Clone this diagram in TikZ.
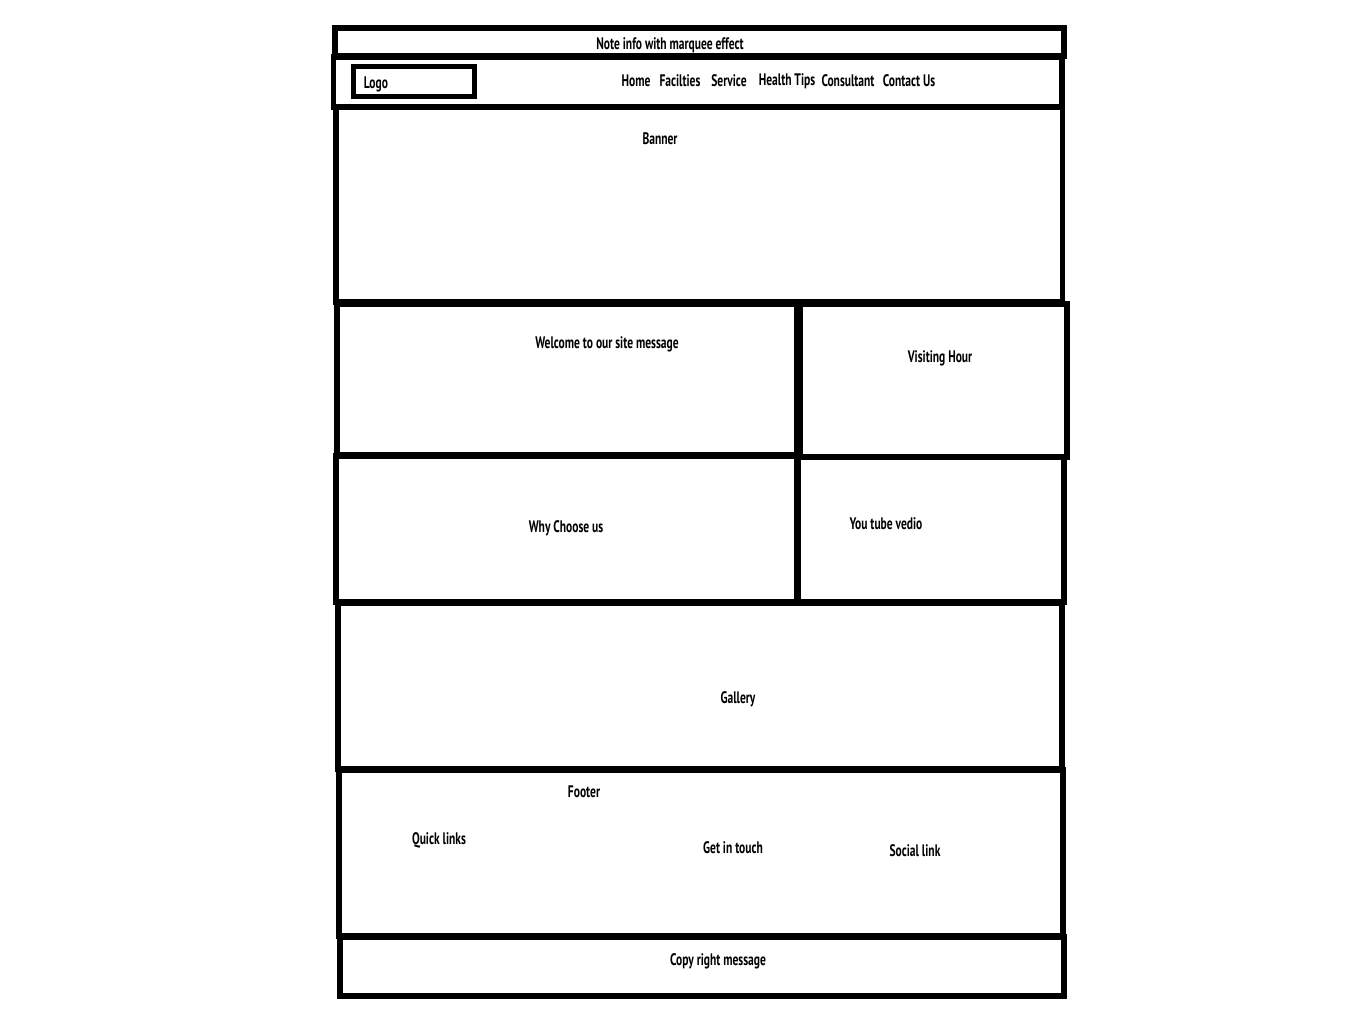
\documentclass[tikz,border=0pt]{standalone}
\usepackage{fontspec}
\setmainfont[FakeStretch=0.69]{PT Sans}
\usepackage{tikz}
\usetikzlibrary{calc, shapes, positioning}
\tikzstyle{panel} = [rectangle, draw, line width=0.11cm, inner sep=0pt, outer sep=0pt]
\tikzstyle{wtext} = [inner sep=0pt, font=\fontsize{9.5}{11}\selectfont\bfseries]

\begin{document}
\begin{tikzpicture}

        \useasboundingbox (0, 0) rectangle (27.02, -20.58);

        \node[panel, minimum width=14.58cm, minimum height=0.56cm] at (13.99, -0.84) (NoteBar) {};
        \node[wtext] at (13.40, -0.90) (NoteText) {Note info with marquee effect};

        \node[panel, minimum width=14.57cm, minimum height=1.00cm] at (13.955, -1.64) (NavBar) {};
        \node[panel, line width=0.1cm, minimum width=2.42cm, minimum height=0.59cm] at (8.28, -1.625) (LogoBox) {};
        \node[wtext] at (7.52, -1.68) (Logo) {Logo};
        \node[wtext] at (12.72, -1.62) (Home) {Home};
        \node[wtext] at (13.60, -1.62) (Facilties) {Facilties};
        \node[wtext] at (14.58, -1.62) (Service) {Service};
        \node[wtext] at (15.74, -1.62) (HealthTips) {Health Tips};
        \node[wtext] at (16.96, -1.62) (Consultant) {Consultant};
        \node[wtext] at (18.18, -1.62) (ContactUs) {Contact Us};

        \node[panel, minimum width=14.53cm, minimum height=3.90cm] at (13.985, -4.09) (BannerBox) {};
        \node[wtext] at (13.20, -2.78) (Banner) {Banner};

        \node[panel, minimum width=9.19cm, minimum height=3.02cm] at (11.335, -7.59) (WelcomeBox) {};
        \node[wtext] at (12.14, -6.88) (Welcome) {Welcome to our site message};
        \node[panel, minimum width=5.34cm, minimum height=3.06cm] at (18.67, -7.61) (VisitingBox) {};
        \node[wtext] at (18.80, -7.16) (Visiting) {Visiting Hour};

        \node[panel, minimum width=9.22cm, minimum height=2.92cm] at (11.33, -10.58) (WhyBox) {};
        \node[wtext] at (11.32, -10.56) (Why) {Why Choose us};
        \node[panel, minimum width=5.32cm, minimum height=2.90cm] at (18.62, -10.59) (YoutubeBox) {};
        \node[wtext] at (17.72, -10.48) (Youtube) {You tube vedio};

        \node[panel, minimum width=14.48cm, minimum height=3.32cm] at (14.00, -13.72) (GalleryBox) {};
        \node[wtext] at (14.76, -13.98) (Gallery) {Gallery};

        \node[panel, minimum width=14.48cm, minimum height=3.32cm] at (14.02, -17.06) (FooterBox) {};
        \node[wtext] at (11.68, -15.84) (Footer) {Footer};
        \node[wtext] at (8.78, -16.80) (QuickLinks) {Quick links};
        \node[wtext] at (14.66, -16.96) (GetInTouch) {Get in touch};
        \node[wtext] at (18.30, -17.02) (SocialLink) {Social link};

        \node[panel, minimum width=14.48cm, minimum height=1.18cm] at (14.04, -19.33) (CopyBox) {};
        \node[wtext] at (14.36, -19.22) (CopyRight) {Copy right message};

    \end{tikzpicture}
\end{document}
